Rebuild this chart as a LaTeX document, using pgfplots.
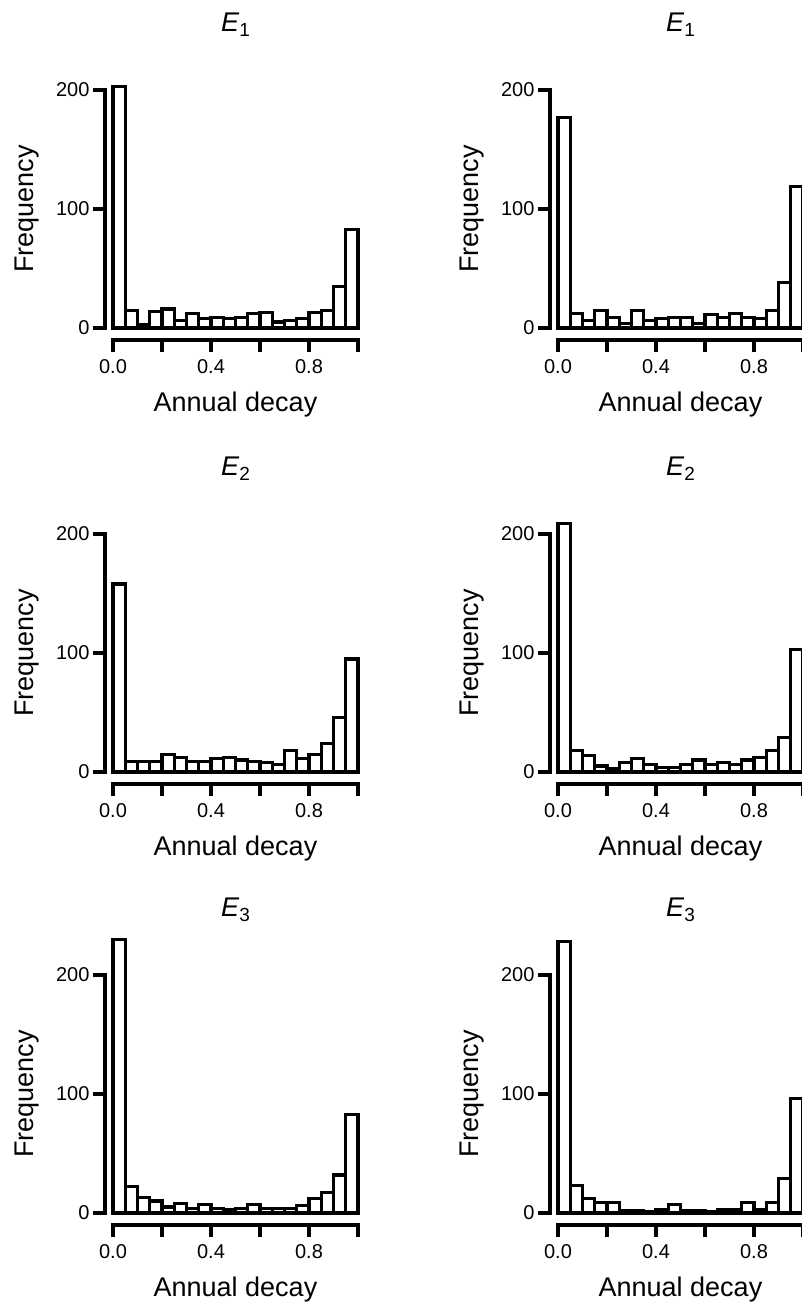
\documentclass[border=0pt]{standalone}
\usepackage{pgfplots}
\pgfplotsset{compat=1.18}
\usepackage{fontspec}
\setmainfont{Liberation Sans}
\newcommand{\tickfont}{\fontsize{20}{24}\selectfont}
\newcommand{\labfont}{\fontsize{27}{32}\selectfont}
\tikzset{axisline/.style={line width=3.3pt, black, line cap=rect}}
\pgfplotsset{
  panel/.style={
    scale only axis, width=253pt, height=309.5pt, anchor=south west,
    xmin=-0.03265, xmax=1, ymin=-10.1, ymax=250,
    axis line style={draw=none},
    xtick={0,0.2,0.4,0.6,0.8,1}, xticklabels={0.0,,0.4,,0.8,},
    ytick={0,100,200},
    tick align=outside, tick pos=left,
    major tick length=12pt,
    tick style={line width=3.2pt, black},
    ticklabel style={font=\tickfont},
    xticklabel style={yshift=-4pt},
    /pgf/number format/assume math mode=true,
    clip=false,
    title style={at={(axis description cs:0.5158,0.9789)}, anchor=base, font=\labfont},
    xlabel={Annual decay}, ylabel={Frequency},
    xlabel style={at={(axis description cs:0.5158,-0.2326)}, anchor=base, font=\labfont},
    ylabel style={at={(axis description cs:-0.31,0.4233)}, anchor=center, font=\labfont},
  },
  bars/.style={ybar interval, draw=black, fill=white, line width=3.2pt},
}
\newcommand{\panel}[4]{%
\begin{axis}[panel, at={(#1pt,#2pt)}, title={\textit{E}\raisebox{-5pt}{\fontsize{19}{19}\selectfont #3}}]
\addplot[bars] coordinates {#4};
\draw[axisline] (axis cs:-0.03265,0) -- (axis cs:-0.03265,200);
\draw[axisline] (axis cs:0,-10.1) -- (axis cs:1,-10.1);
\end{axis}}
\begin{document}
\begin{tikzpicture}
\path[use as bounding box, clip] (0pt,0pt) rectangle (802pt,1302pt);
% Row 1 left
\panel{105}{962}{1}{(0,203) (0.05,15) (0.10,3) (0.15,14) (0.20,16) (0.25,6) (0.30,12) (0.35,8) (0.40,9) (0.45,8) (0.50,9) (0.55,12) (0.60,13) (0.65,5) (0.70,6) (0.75,8) (0.80,13) (0.85,15) (0.90,35) (0.95,83) (1.00,83)}
% Row 1 right
\panel{550}{962}{1}{(0,177) (0.05,12) (0.10,6) (0.15,15) (0.20,9) (0.25,4) (0.30,15) (0.35,6) (0.40,8) (0.45,9) (0.50,9) (0.55,4) (0.60,11) (0.65,9) (0.70,12) (0.75,9) (0.80,8) (0.85,15) (0.90,38) (0.95,119) (1.00,119)}
% Row 2 left
\panel{105}{518}{2}{(0,158) (0.05,9) (0.10,9) (0.15,9) (0.20,15) (0.25,12) (0.30,9) (0.35,9) (0.40,11) (0.45,12) (0.50,10) (0.55,9) (0.60,8) (0.65,6) (0.70,18) (0.75,11) (0.80,15) (0.85,24) (0.90,46) (0.95,95) (1.00,95)}
% Row 2 right
\panel{550}{518}{2}{(0,209) (0.05,18) (0.10,14) (0.15,5) (0.20,3) (0.25,8) (0.30,11) (0.35,6) (0.40,4) (0.45,4) (0.50,6) (0.55,10) (0.60,6) (0.65,8) (0.70,6) (0.75,10) (0.80,12) (0.85,18) (0.90,29) (0.95,103) (1.00,103)}
% Row 3 left
\panel{105}{77}{3}{(0,230) (0.05,22) (0.10,13) (0.15,10) (0.20,5) (0.25,8) (0.30,4) (0.35,7) (0.40,4) (0.45,3) (0.50,4) (0.55,7) (0.60,4) (0.65,4) (0.70,4) (0.75,6) (0.80,12) (0.85,17) (0.90,32) (0.95,83) (1.00,83)}
% Row 3 right
\panel{550}{77}{3}{(0,228) (0.05,23) (0.10,12) (0.15,9) (0.20,9) (0.25,2) (0.30,2) (0.35,1) (0.40,3) (0.45,7) (0.50,2) (0.55,2) (0.60,1) (0.65,3) (0.70,3) (0.75,9) (0.80,3) (0.85,9) (0.90,29) (0.95,96) (1.00,96)}
\end{tikzpicture}
\end{document}
